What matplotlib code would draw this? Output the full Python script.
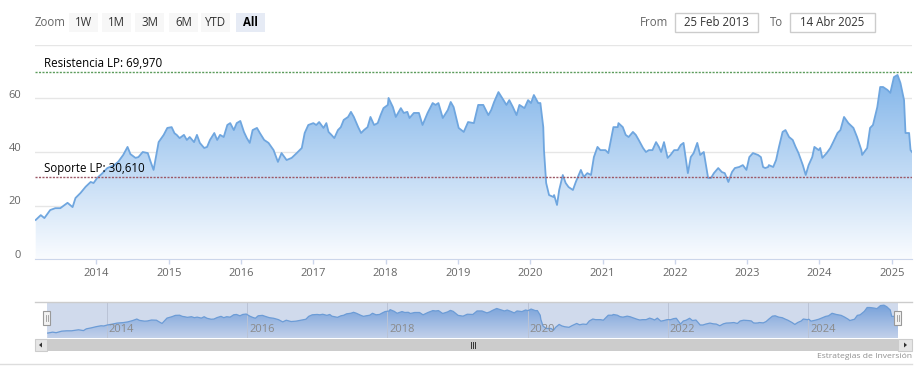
import numpy as np
import matplotlib.pyplot as plt
from matplotlib.patches import Rectangle, Polygon
from matplotlib.lines import Line2D
from matplotlib.transforms import ScaledTranslation

W, H = 920, 380

# price series (decimal year, price)
dates = [
    2013.16, 2013.23, 2013.28, 2013.36, 2013.43, 2013.50, 2013.54, 2013.60, 2013.67, 2013.71,
    2013.78, 2013.85, 2013.92, 2013.96, 2014.01, 2014.08, 2014.15, 2014.24, 2014.30, 2014.37,
    2014.43, 2014.47, 2014.54, 2014.58, 2014.64, 2014.71, 2014.75, 2014.79, 2014.84, 2014.86,
    2014.93, 2014.98, 2015.04, 2015.08, 2015.11, 2015.15, 2015.21, 2015.25, 2015.29, 2015.35,
    2015.39, 2015.43, 2015.49, 2015.53, 2015.57, 2015.63, 2015.67, 2015.71, 2015.76, 2015.81,
    2015.85, 2015.90, 2015.94, 2015.99, 2016.04, 2016.08, 2016.12, 2016.16, 2016.22, 2016.26,
    2016.32, 2016.38, 2016.45, 2016.51, 2016.56, 2016.63, 2016.70, 2016.77, 2016.84, 2016.88,
    2016.93, 2017.00, 2017.04, 2017.08, 2017.14, 2017.18, 2017.21, 2017.25, 2017.29, 2017.34,
    2017.38, 2017.42, 2017.48, 2017.52, 2017.56, 2017.62, 2017.66, 2017.70, 2017.75, 2017.79,
    2017.84, 2017.89, 2017.93, 2017.97, 2018.03, 2018.04, 2018.10, 2018.14, 2018.21, 2018.25,
    2018.30, 2018.33, 2018.39, 2018.46, 2018.51, 2018.58, 2018.65, 2018.69, 2018.73, 2018.79,
    2018.86, 2018.90, 2018.94, 2019.01, 2019.08, 2019.14, 2019.18, 2019.22, 2019.28, 2019.35,
    2019.42, 2019.46, 2019.50, 2019.56, 2019.63, 2019.67, 2019.71, 2019.76, 2019.81, 2019.85,
    2019.92, 2019.97, 2020.01, 2020.05, 2020.11, 2020.14, 2020.18, 2020.19, 2020.22, 2020.26,
    2020.32, 2020.33, 2020.37, 2020.40, 2020.45, 2020.49, 2020.53, 2020.59, 2020.63, 2020.70,
    2020.74, 2020.79, 2020.84, 2020.88, 2020.93, 2020.97, 2021.04, 2021.08, 2021.11, 2021.15,
    2021.21, 2021.22, 2021.28, 2021.32, 2021.36, 2021.42, 2021.46, 2021.50, 2021.56, 2021.60,
    2021.64, 2021.69, 2021.74, 2021.78, 2021.81, 2021.85, 2021.90, 2021.94, 2021.99, 2022.04,
    2022.08, 2022.12, 2022.18, 2022.22, 2022.26, 2022.31, 2022.35, 2022.40, 2022.46, 2022.50,
    2022.54, 2022.60, 2022.65, 2022.69, 2022.74, 2022.79, 2022.83, 2022.89, 2022.94, 2022.99,
    2023.03, 2023.08, 2023.15, 2023.19, 2023.22, 2023.25, 2023.29, 2023.30, 2023.36, 2023.40,
    2023.44, 2023.49, 2023.53, 2023.58, 2023.63, 2023.67, 2023.71, 2023.77, 2023.81, 2023.85,
    2023.90, 2023.93, 2023.99, 2024.01, 2024.04, 2024.10, 2024.15, 2024.19, 2024.25, 2024.29,
    2024.34, 2024.40, 2024.47, 2024.52, 2024.58, 2024.59, 2024.66, 2024.70, 2024.74, 2024.80,
    2024.84, 2024.88, 2024.94, 2024.98, 2025.03, 2025.08, 2025.12, 2025.17, 2025.19, 2025.24,
    2025.26, 2025.28,
]
prices = [
    14.6, 16.4, 15.3, 18.3, 19.0, 19.0, 19.8, 21.0, 19.4, 22.8,
    24.7, 27.0, 28.8, 28.4, 30.3, 32.0, 34.0, 35.0, 36.3, 38.9,
    41.9, 39.2, 37.8, 38.1, 40.0, 39.6, 36.3, 33.3, 40.7, 43.7,
    46.4, 49.0, 49.3, 47.0, 46.4, 45.2, 46.4, 44.5, 45.6, 43.7,
    46.4, 43.4, 41.5, 41.9, 44.5, 47.1, 44.5, 46.4, 45.6, 50.1,
    50.8, 48.2, 50.8, 51.6, 47.5, 45.2, 43.4, 48.2, 49.0, 47.1,
    44.5, 43.4, 40.7, 36.3, 39.6, 37.0, 37.8, 39.6, 41.5, 47.1,
    50.1, 50.8, 50.1, 51.2, 49.0, 50.8, 47.5, 46.4, 45.2, 48.2,
    49.3, 52.0, 53.1, 55.0, 53.1, 49.3, 47.1, 48.2, 49.3, 53.1,
    50.1, 50.8, 53.8, 56.4, 57.6, 60.2, 56.8, 53.1, 56.4, 54.6,
    55.0, 52.7, 54.6, 54.6, 50.1, 54.6, 58.3, 57.6, 58.3, 52.7,
    55.7, 58.7, 56.8, 49.0, 47.5, 51.2, 51.0, 50.8, 57.6, 57.6,
    53.8, 55.7, 58.7, 62.4, 59.4, 57.6, 59.4, 56.8, 53.8, 57.6,
    56.4, 59.4, 58.3, 61.3, 58.3, 58.3, 49.3, 40.7, 28.4, 23.9,
    23.2, 23.9, 20.2, 25.8, 31.4, 28.4, 26.9, 25.8, 28.8, 33.3,
    30.7, 32.1, 31.4, 38.1, 41.9, 40.7, 40.7, 39.6, 43.7, 49.3,
    49.3, 50.8, 49.3, 46.4, 45.6, 47.5, 46.4, 44.5, 41.5, 40.0,
    40.7, 40.7, 43.7, 41.9, 40.0, 43.7, 37.8, 38.9, 40.7, 40.7,
    42.6, 43.4, 32.1, 38.1, 39.6, 43.4, 38.9, 40.0, 30.3, 30.3,
    32.1, 34.0, 32.5, 32.1, 28.8, 32.5, 34.0, 34.4, 35.1, 33.3,
    38.1, 39.6, 38.9, 38.1, 34.4, 34.0, 34.4, 35.1, 34.4, 37.0,
    41.9, 47.5, 48.2, 45.6, 44.5, 41.9, 39.6, 35.1, 31.4, 35.1,
    38.1, 41.9, 40.7, 41.5, 37.8, 39.6, 41.5, 43.7, 47.1, 48.2,
    53.1, 50.8, 49.0, 45.6, 40.7, 38.9, 41.5, 49.0, 50.1, 56.8,
    64.3, 64.3, 63.2, 62.1, 68.0, 68.8, 65.8, 59.4, 47.1, 47.1,
    40.7, 40.0,
]

resistance = 69.970
support = 30.610
resistance_label = "Resistencia LP: 69,970"
support_label = "Soporte LP: 30,610"

y_ticks = [0, 20, 40, 60, 80]
y_labels = ["0", "20", "40", "60", ""]
x_years = list(range(2014, 2026))
nav_years = [2014, 2016, 2018, 2020, 2022, 2024]
zoom_buttons = ["1W", "1M", "3M", "6M", "YTD", "All"]
date_from = "25 Feb 2013"
date_to = "14 Abr 2025"
credit = "Estrategias de Inversión"

x_start, x_end = 2013.15, 2025.28

plt.rcParams['font.family'] = ['Open Sans', 'DejaVu Sans']

fig = plt.figure(figsize=(W / 100, H / 100), dpi=100)
fig.patch.set_facecolor('white')


def fx(px):
    return px / W


def fy(py):
    return 1 - py / H


def rect(x0, y0, x1, y1, **kw):
    r = Rectangle((fx(x0), fy(y1)), (x1 - x0) / W, (y1 - y0) / H,
                  transform=fig.transFigure, **kw)
    fig.add_artist(r)
    return r


def gradient_area(ax, x, y, top_rgb, bot_rgb, y0, y1, z=1):
    grad = np.linspace(0, 1, 256)[:, None, None]
    top = np.array(top_rgb) / 255
    bot = np.array(bot_rgb) / 255
    img = bot + (top - bot) * grad
    im = ax.imshow(img, extent=[x_start, x_end, y0, y1], origin='lower',
                   aspect='auto', zorder=z, interpolation='bilinear')
    coll = ax.fill_between(x, y, y0, color='none', lw=0)
    im.set_clip_path(coll.get_paths()[0], transform=ax.transData)


# ---- main chart ----
ax = fig.add_axes([fx(35), fy(259), (912 - 35) / W, (259 - 45) / H])
gradient_area(ax, dates, prices, (128, 180, 233), (250, 252, 255), 0, 70)
ax.plot(dates, prices, color='#6fa6df', lw=1.3, zorder=3)
ax.set_xlim(x_start, x_end)
ax.set_ylim(0, 80)

ax.set_yticks(y_ticks)
ax.set_yticklabels(y_labels)
ax.yaxis.grid(True, color='#e6e6e6', lw=1, zorder=0)
ax.set_axisbelow(True)
ax.tick_params(axis='y', length=0, pad=10, labelsize=8, labelcolor='#666666')
for lab in ax.get_yticklabels():
    lab.set_transform(lab.get_transform() + ScaledTranslation(0, 5 / 100, fig.dpi_scale_trans))

ax.set_xticks(x_years)
ax.set_xticklabels([str(y) for y in x_years])
ax.tick_params(axis='x', length=3.6, width=1, color='#ccd6eb', pad=3,
               labelsize=8, labelcolor='#666666')

for s in ['top', 'left', 'right']:
    ax.spines[s].set_visible(False)
ax.spines['bottom'].set_color('#ccd6eb')

ax.axhline(resistance, color='#5c9c5c', ls=(0, (1.5, 1)), lw=1, zorder=4)
ax.axhline(support, color='#9c5866', ls=(0, (1.5, 1)), lw=1, zorder=4)
ax.annotate(resistance_label, xy=(0, resistance), xycoords=('axes fraction', 'data'),
            xytext=(9, 2), textcoords='offset pixels', fontsize=8.3, color='#000000',
            va='bottom', ha='left', zorder=5)
ax.annotate(support_label, xy=(0, support), xycoords=('axes fraction', 'data'),
            xytext=(9, 2), textcoords='offset pixels', fontsize=8.3, color='#000000',
            va='bottom', ha='left', zorder=5)

# ---- range selector ----
fig.text(fx(35), fy(22), "Zoom", fontsize=8.3, color='#666666', va='center', ha='left')
btn_x = [69, 102, 135, 169, 201, 236]
for i, b in enumerate(zoom_buttons):
    sel = b == "All"
    rect(btn_x[i], 13, btn_x[i] + 29, 32, facecolor='#e6ebf5' if sel else '#f7f7f7',
         edgecolor='none')
    fig.text(fx(btn_x[i] + 14.5), fy(22.5), b, fontsize=8.3, ha='center', va='center',
             color='#000000' if sel else '#333333', fontweight='bold' if sel else 'normal')

fig.text(fx(668), fy(22), "From", fontsize=8.3, color='#666666', ha='right', va='center')
rect(675, 13, 758, 32, facecolor='white', edgecolor='#cccccc', lw=1)
fig.text(fx(716.5), fy(22.5), date_from, fontsize=8.3, color='#333333', ha='center', va='center')
fig.text(fx(783), fy(22), "To", fontsize=8.3, color='#666666', ha='right', va='center')
rect(790, 13, 875, 32, facecolor='white', edgecolor='#cccccc', lw=1)
fig.text(fx(832.5), fy(22.5), date_to, fontsize=8.3, color='#333333', ha='center', va='center')

# ---- navigator ----
nav = fig.add_axes([fx(47), fy(338), (898 - 47) / W, (338 - 302) / H])
nav.set_xlim(x_start, x_end)
nav.set_ylim(5, 75)
gradient_area(nav, dates, prices, (120, 170, 228), (235, 242, 252), 5, 72)
nav.plot(dates, prices, color='#6fa6df', lw=0.9, zorder=3)
for yr in nav_years:
    nav.axvline(yr, color='#dedede', lw=0.7, zorder=2)
    nav.annotate(str(yr), xy=(yr, 0), xycoords=('data', 'axes fraction'),
                 xytext=(2, 3), textcoords='offset pixels', fontsize=8,
                 color='#8a8a8a', ha='left', va='bottom', zorder=6)
nav.add_patch(Rectangle((0, 0), 1, 1, transform=nav.transAxes,
                        facecolor=(102 / 255, 133 / 255, 194 / 255), alpha=0.3,
                        edgecolor='none', zorder=5))
nav.set_xticks([])
nav.set_yticks([])
for s in nav.spines.values():
    s.set_visible(False)

fig.add_artist(Line2D([fx(35), fx(912)], [fy(302), fy(302)], color='#cccccc', lw=1))

# handles
for hx in (47, 898):
    rect(hx - 3.5, 311, hx + 3.5, 325, facecolor='#f2f2f2', edgecolor='#999999', lw=0.8)
    for dx in (-1, 1):
        fig.add_artist(Line2D([fx(hx + dx), fx(hx + dx)], [fy(315), fy(321)],
                              color='#999999', lw=0.6))

# ---- scrollbar ----
rect(35, 339, 912, 351, facecolor='#f2f2f2', edgecolor='none')
rect(47, 339, 898, 351, facecolor='#cccccc', edgecolor='none')
rect(35, 339, 47, 351, facecolor='#e6e6e6', edgecolor='#cccccc', lw=0.8)
rect(898, 339, 912, 351, facecolor='#e6e6e6', edgecolor='#cccccc', lw=0.8)
fig.add_artist(Polygon([[fx(39), fy(345)], [fx(42), fy(342.5)], [fx(42), fy(347.5)]],
                       closed=True, transform=fig.transFigure, facecolor='#333333',
                       edgecolor='none'))
fig.add_artist(Polygon([[fx(907), fy(345)], [fx(904), fy(342.5)], [fx(904), fy(347.5)]],
                       closed=True, transform=fig.transFigure, facecolor='#333333',
                       edgecolor='none'))
for gx in (471, 473, 475):
    fig.add_artist(Line2D([fx(gx), fx(gx)], [fy(342), fy(348)], color='#333333', lw=0.7))

# ---- credits and footer ----
fig.text(fx(912), fy(356), credit, fontsize=6.1, color='#909090', ha='right', va='center')
fig.add_artist(Line2D([0, fx(912)], [fy(364), fy(364)], color='#dddddd', lw=1))

fig.savefig("out.png", dpi=100)
